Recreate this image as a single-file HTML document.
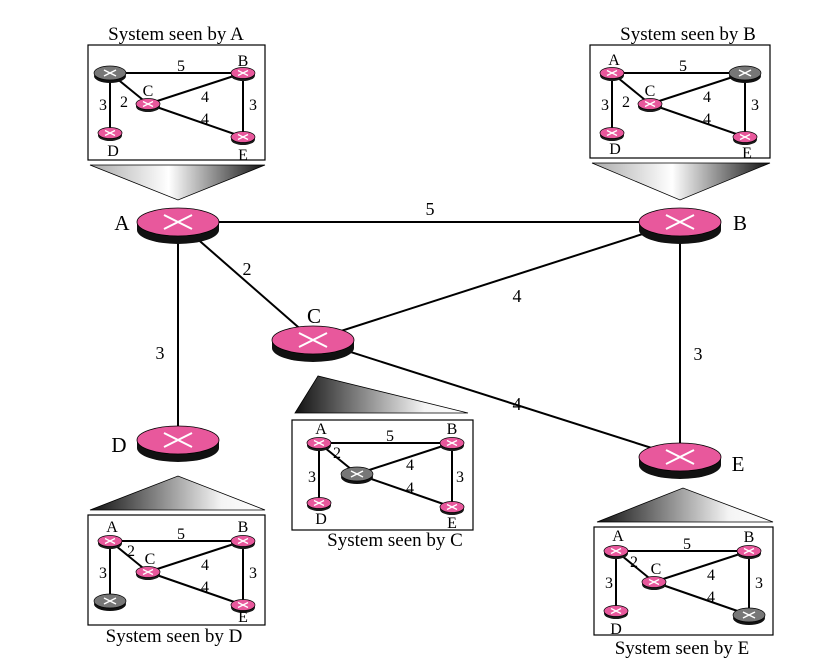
<!DOCTYPE html>
<html><head><style>
html,body{margin:0;padding:0;background:#fff;}
svg{display:block;font-family:"Liberation Serif",serif;}
</style></head><body>
<svg width="828" height="672" viewBox="0 0 828 672" xmlns="http://www.w3.org/2000/svg">
<defs>
<linearGradient id="g1" x1="0" x2="1" y1="0" y2="0"><stop offset="0" stop-color="#aaa"/><stop offset="0.45" stop-color="#fff"/><stop offset="1" stop-color="#111"/></linearGradient>
<linearGradient id="g2" x1="0" x2="1" y1="0" y2="0"><stop offset="0" stop-color="#111"/><stop offset="0.75" stop-color="#f4f4f4"/><stop offset="1" stop-color="#fff"/></linearGradient>
<g id="sr"><ellipse cx="0" cy="2.5" rx="12" ry="5.5" fill="#1a1a1a"/><ellipse cx="0" cy="0" rx="12" ry="5.5" fill="#e8589c" stroke="#000" stroke-width="0.7"/><path d="M-5,-2.5L5,2.5M-5,2.5L5,-2.5" stroke="#fff" stroke-width="1.3"/></g>
<g id="gr"><ellipse cx="0" cy="3" rx="16" ry="7" fill="#111"/><ellipse cx="0" cy="0" rx="16" ry="7" fill="#777" stroke="#000" stroke-width="0.7"/><path d="M-6,-3L6,3M-6,3L6,-3" stroke="#fff" stroke-width="1.5"/></g>
<g id="br"><ellipse cx="0" cy="8" rx="41" ry="14" fill="#111"/><rect x="-41" y="0" width="82" height="8" fill="#111"/><ellipse cx="0" cy="0" rx="41" ry="14" fill="#e8589c" stroke="#000" stroke-width="0.8"/><path d="M-14,-7L14,7M-14,7L14,-7" stroke="#fff" stroke-width="2"/></g>
<g id="edges" stroke="#000" stroke-width="2" fill="none"><path d="M22,28L155,28M22,28L60,59M22,28L22,88M155,28L60,59M155,28L155,92M60,59L155,92"/></g>
</defs>

<g stroke="#000" stroke-width="2">
<line x1="178" y1="222" x2="680" y2="222"/>
<line x1="178" y1="222" x2="313" y2="340"/>
<line x1="178" y1="222" x2="178" y2="440"/>
<line x1="680" y1="222" x2="313" y2="340"/>
<line x1="680" y1="222" x2="680" y2="457"/>
<line x1="313" y1="340" x2="680" y2="457"/>
</g>
<g font-size="18" text-anchor="middle">
<text x="430" y="215">5</text><text x="247" y="275">2</text><text x="160" y="359">3</text>
<text x="517" y="302">4</text><text x="698" y="360">3</text><text x="517" y="410">4</text>
</g>

<polygon points="90,165 265,165 178,200" fill="url(#g1)" stroke="#000" stroke-width="0.8"/>
<polygon points="592,163 770,163 680,200" fill="url(#g1)" stroke="#000" stroke-width="0.8"/>
<polygon points="295,413 468,413 318,376" fill="url(#g2)" stroke="#000" stroke-width="0.8"/>
<polygon points="90,510 265,510 178,476" fill="url(#g2)" stroke="#000" stroke-width="0.8"/>
<polygon points="597,522 773,522 683,488" fill="url(#g2)" stroke="#000" stroke-width="0.8"/>

<use href="#br" x="178" y="222"/><use href="#br" x="680" y="222"/><use href="#br" x="313" y="340"/>
<use href="#br" x="178" y="440"/><use href="#br" x="680" y="457"/>
<g font-size="21" text-anchor="middle">
<text x="122" y="230">A</text><text x="740" y="230">B</text><text x="314" y="323">C</text>
<text x="119" y="452">D</text><text x="738" y="471">E</text>
</g>

<g transform="translate(88,45)">
<rect x="0" y="0" width="177" height="115" fill="#fff" stroke="#000" stroke-width="1.2"/>
<use href="#edges"/>
<use href="#gr" x="22" y="28"/><use href="#sr" x="155" y="28"/><use href="#sr" x="60" y="59"/><use href="#sr" x="22" y="88"/><use href="#sr" x="155" y="92"/>
<g font-size="16" text-anchor="middle"><text x="93" y="26">5</text><text x="36" y="62">2</text><text x="15" y="65">3</text><text x="117" y="57">4</text><text x="117" y="79">4</text><text x="165" y="65">3</text>
<text x="155" y="21">B</text><text x="60" y="51">C</text><text x="25" y="111">D</text><text x="155" y="115">E</text></g>
</g>
<text x="176" y="40" font-size="19" text-anchor="middle">System seen by A</text>

<g transform="translate(590,45)">
<rect x="0" y="0" width="180" height="113" fill="#fff" stroke="#000" stroke-width="1.2"/>
<use href="#edges"/>
<use href="#sr" x="22" y="28"/><use href="#gr" x="155" y="28"/><use href="#sr" x="60" y="59"/><use href="#sr" x="22" y="88"/><use href="#sr" x="155" y="92"/>
<g font-size="16" text-anchor="middle"><text x="93" y="26">5</text><text x="36" y="62">2</text><text x="15" y="65">3</text><text x="117" y="57">4</text><text x="117" y="79">4</text><text x="165" y="65">3</text>
<text x="24" y="20">A</text><text x="60" y="51">C</text><text x="25" y="109">D</text><text x="157" y="113">E</text></g>
</g>
<text x="688" y="40" font-size="19" text-anchor="middle">System seen by B</text>

<g transform="translate(292,420)">
<rect x="0" y="0" width="181" height="110" fill="#fff" stroke="#000" stroke-width="1.2"/>
<use href="#edges" transform="translate(5,-5)"/>
<g transform="translate(5,-5)">
<use href="#sr" x="22" y="28"/><use href="#sr" x="155" y="28"/><use href="#gr" x="60" y="59"/><use href="#sr" x="22" y="88"/><use href="#sr" x="155" y="92"/>
<g font-size="16" text-anchor="middle"><text x="93" y="26">5</text><text x="40" y="43">2</text><text x="15" y="67">3</text><text x="113" y="55">4</text><text x="113" y="78">4</text><text x="163" y="67">3</text>
<text x="24" y="19">A</text><text x="155" y="19">B</text><text x="24" y="109">D</text><text x="155" y="113">E</text></g>
</g>
</g>
<text x="395" y="546" font-size="19" text-anchor="middle">System seen by C</text>

<g transform="translate(88,515)">
<rect x="0" y="0" width="177" height="110" fill="#fff" stroke="#000" stroke-width="1.2"/>
<use href="#edges" transform="translate(0,-2)"/>
<g transform="translate(0,-2)">
<use href="#sr" x="22" y="28"/><use href="#sr" x="155" y="28"/><use href="#sr" x="60" y="59"/><use href="#gr" x="22" y="88"/><use href="#sr" x="155" y="92"/>
<g font-size="16" text-anchor="middle"><text x="93" y="26">5</text><text x="43" y="43">2</text><text x="15" y="65">3</text><text x="117" y="57">4</text><text x="117" y="79">4</text><text x="165" y="65">3</text>
<text x="24" y="19">A</text><text x="155" y="19">B</text><text x="62" y="51">C</text><text x="155" y="109">E</text></g>
</g>
</g>
<text x="174" y="642" font-size="19" text-anchor="middle">System seen by D</text>

<g transform="translate(594,527)">
<rect x="0" y="0" width="179" height="108" fill="#fff" stroke="#000" stroke-width="1.2"/>
<use href="#edges" transform="translate(0,-4)"/>
<g transform="translate(0,-4)">
<use href="#sr" x="22" y="28"/><use href="#sr" x="155" y="28"/><use href="#sr" x="60" y="59"/><use href="#sr" x="22" y="88"/><use href="#gr" x="155" y="92"/>
<g font-size="16" text-anchor="middle"><text x="93" y="26">5</text><text x="40" y="44">2</text><text x="15" y="65">3</text><text x="117" y="57">4</text><text x="117" y="79">4</text><text x="165" y="65">3</text>
<text x="24" y="18">A</text><text x="155" y="19">B</text><text x="62" y="51">C</text><text x="22" y="111">D</text></g>
</g>
</g>
<text x="682" y="654" font-size="19" text-anchor="middle">System seen by E</text>
</svg>
</body></html>
